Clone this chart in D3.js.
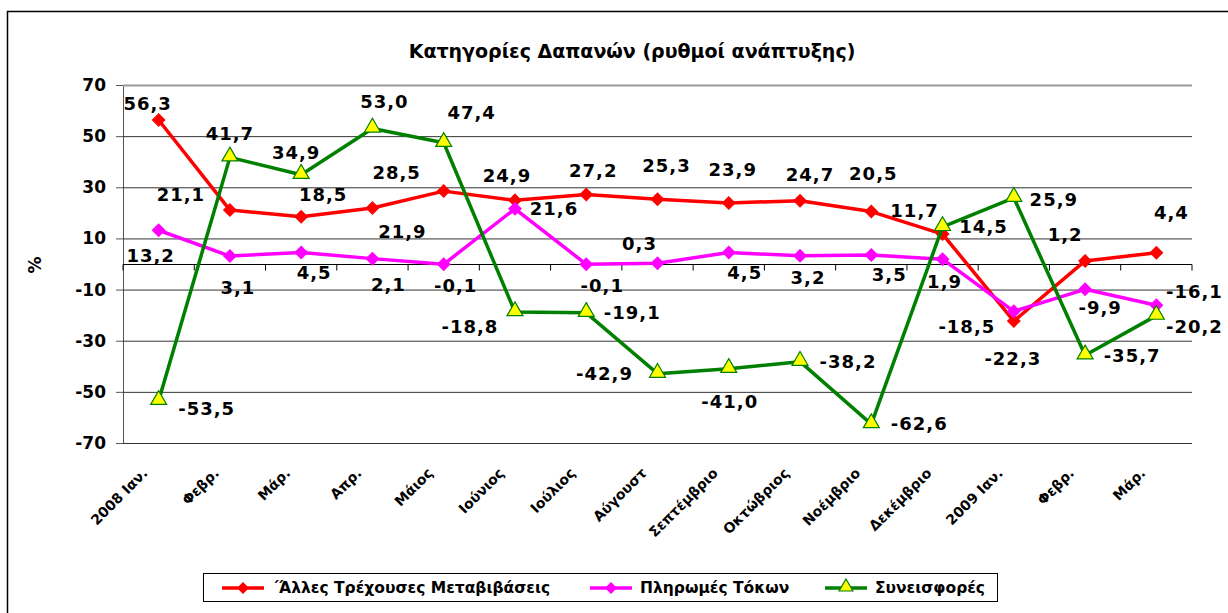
<!DOCTYPE html>
<html>
<head>
<meta charset="utf-8">
<script src="https://cdn.jsdelivr.net/npm/d3@7"></script>
<style>
  body { margin: 0; background: #fff; }
  svg { display: block; font-family: "DejaVu Sans", sans-serif; font-weight: bold; }
</style>
</head>
<body>
<svg id="chart" width="1228" height="613"></svg>
<script>
var months = ["2008 Ιαν.", "Φεβρ.", "Μάρ.", "Απρ.", "Μάιος", "Ιούνιος", "Ιούλιος",
              "Αύγουστ", "Σεπτέμβριο", "Οκτώβριος", "Νοέμβριο", "Δεκέμβριο",
              "2009 Ιαν.", "Φεβρ.", "Μάρ."];

var transfers = [56.3, 21.1, 18.5, 21.9, 28.5, 24.9, 27.2, 25.3, 23.9, 24.7, 20.5, 11.7, -22.3, 1.2, 4.4];
var interest  = [13.2, 3.1, 4.5, 2.1, -0.1, 21.6, -0.1, 0.3, 4.5, 3.2, 3.5, 1.9, -18.5, -9.9, -16.1];
var contribs  = [-53.5, 41.7, 34.9, 53.0, 47.4, -18.8, -19.1, -42.9, -41.0, -38.2, -62.6, 14.5, 25.9, -35.7, -20.2];

var seriesNames = ["΄Άλλες Τρέχουσες Μεταβιβάσεις", "Πληρωμές Τόκων", "Συνεισφορές"];
var yTicks = [-70, -50, -30, -10, 10, 30, 50, 70];

// where each data label sits relative to its point (the original labels were placed by hand)
var transfersLabelPos = [[-11,-17],[-49,-16],[22,-22],[30,24],[-47,-19],[-8,-25],[7,-24],[9,-34],
                         [4,-33],[10,-26],[2,-38],[-28,-24],[-1,37],[-20,-26],[15,-40]];
var interestLabelPos  = [[-8,25],[8,31],[13,20],[16,26],[12,21],[39,0],[16,21],[-18,-20],
                         [16,20],[8,22],[18,19],[2,22],[-47,15],[15,18],[38,-14]];
var contribsLabelPos  = [[48,8],[0,-24],[-5,-22],[12,-27],[28,-30],[-45,14],[46,0],[-53,0],
                         [1,33],[48,0],[48,-1],[41,0],[40,2],[47,0],[38,11]];

var svg = d3.select("#chart");

var x = d3.scaleBand()
    .domain(d3.range(months.length))
    .range([123, 1192]);

var y = d3.scaleLinear()
    .domain([-70, 70])
    .range([443, 85]);

// plain hyphen and decimal comma, like the original
var fmt = function(v) { return v.toFixed(1).replace(".", ","); };
var cx = function(i) { return x(i) + x.bandwidth() / 2; };

// outer frame of the chart object
svg.append("rect")
    .attr("x", 7.5).attr("y", 11.5)
    .attr("width", 1400).attr("height", 800)
    .attr("fill", "none").attr("stroke", "#000").attr("stroke-width", 1.5);

svg.append("text")
    .attr("x", 632).attr("y", 58)
    .attr("text-anchor", "middle")
    .style("font-size", "19px")
    .text("Κατηγορίες Δαπανών (ρυθμοί ανάπτυξης)");

// gridlines + y axis
var yAxis = svg.append("g")
    .attr("transform", "translate(123,0)")
    .call(d3.axisLeft(y).tickValues(yTicks).tickSize(7).tickPadding(10).tickFormat(d => String(d)));
yAxis.select(".domain").attr("stroke", "#555");
yAxis.selectAll(".tick line").attr("stroke", "#555");
yAxis.selectAll(".tick text")
    .style("font-size", "17px").style("font-family", "DejaVu Sans").style("font-weight", "bold")
    .attr("fill", "#000");

svg.append("g").selectAll("line")
    .data(yTicks)
    .join("line")
    .attr("x1", 123).attr("x2", 1192)
    .attr("y1", d => y(d) + 0.5).attr("y2", d => y(d) + 0.5)
    .attr("stroke", (d, i) => i == yTicks.length - 1 ? "#999" : "#333")
    .attr("stroke-width", d => d == 70 ? 2 : 1);

svg.append("text")
    .attr("transform", "translate(41,265) rotate(-90)")
    .attr("text-anchor", "middle")
    .style("font-size", "17px")
    .text("%");

// category axis sits on zero
var zeroY = Math.round(y(0)) + 0.5;
svg.append("line")
    .attr("x1", 123).attr("x2", 1192)
    .attr("y1", zeroY).attr("y2", zeroY)
    .attr("stroke", "#000").attr("stroke-width", 1.2);
svg.append("g").selectAll("line")
    .data(d3.range(months.length + 1))
    .join("line")
    .attr("x1", d => 123 + d * x.step()).attr("x2", d => 123 + d * x.step())
    .attr("y1", zeroY).attr("y2", zeroY + 6)
    .attr("stroke", "#000");

svg.append("g").selectAll("text")
    .data(months)
    .join("text")
    .attr("transform", (d, i) => "translate(" + (cx(i) - 10) + ",474) rotate(-45)")
    .attr("text-anchor", "end")
    .style("font-size", "14px")
    .text(d => d);

var series = [
    {name: seriesNames[0], values: transfers, labelPos: transfersLabelPos, color: "#ff0000", marker: "diamond"},
    {name: seriesNames[1], values: interest, labelPos: interestLabelPos, color: "#ff00ff", marker: "diamond"},
    {name: seriesNames[2], values: contribs, labelPos: contribsLabelPos, color: "#008000", marker: "triangle"}
];

var line = d3.line()
    .x((d, i) => cx(i))
    .y(d => y(d));

function drawMarker(sel, s, scale) {
    if (s.marker == "diamond") {
        sel.append("path")
            .attr("d", d3.symbol().type(d3.symbolSquare).size(98 * scale)())
            .attr("transform", "rotate(45)")
            .attr("fill", s.color);
    } else {
        sel.append("path")
            .attr("d", d3.symbol().type(d3.symbolTriangle).size(110 * scale)())
            .attr("transform", "translate(0,-1)")
            .attr("fill", "#ffff00")
            .attr("stroke", s.color)
            .attr("stroke-width", 1.2);
    }
}

series.forEach(function(s) {
    var g = svg.append("g");
    g.append("path")
        .datum(s.values)
        .attr("d", line)
        .attr("fill", "none")
        .attr("stroke", s.color)
        .attr("stroke-width", 3.5)
        .attr("stroke-linejoin", "round");
    g.selectAll("g.pt")
        .data(s.values)
        .join("g")
        .attr("class", "pt")
        .attr("transform", (d, i) => "translate(" + cx(i) + "," + y(d) + ")")
        .each(function() { drawMarker(d3.select(this), s, 1); });
});

// data labels drawn on top of all lines
series.forEach(function(s) {
    svg.append("g").selectAll("text")
        .data(s.values)
        .join("text")
        .attr("x", (d, i) => cx(i) + s.labelPos[i][0])
        .attr("y", (d, i) => y(d) + s.labelPos[i][1])
        .attr("text-anchor", "middle")
        .attr("dominant-baseline", "central")
        .style("font-size", "18px")
        .style("letter-spacing", "1px")
        .text(d => fmt(d));
});

// legend
var legendX = [222, 590, 825];
var legend = svg.append("g");
legend.append("rect")
    .attr("x", 203.5).attr("y", 573.5)
    .attr("width", 794).attr("height", 28)
    .attr("fill", "#fff").attr("stroke", "#000");
series.forEach(function(s, i) {
    var item = legend.append("g").attr("transform", "translate(" + legendX[i] + ",588)");
    item.append("line")
        .attr("x1", 0).attr("x2", 42)
        .attr("stroke", s.color).attr("stroke-width", 3.5);
    var m = item.append("g").attr("transform", "translate(21,0)");
    drawMarker(m, s, 0.75);
    item.append("text")
        .attr("x", 50).attr("y", 0)
        .attr("dominant-baseline", "central")
        .style("font-size", "15.5px")
        .text(s.name);
});
</script>
</body>
</html>
